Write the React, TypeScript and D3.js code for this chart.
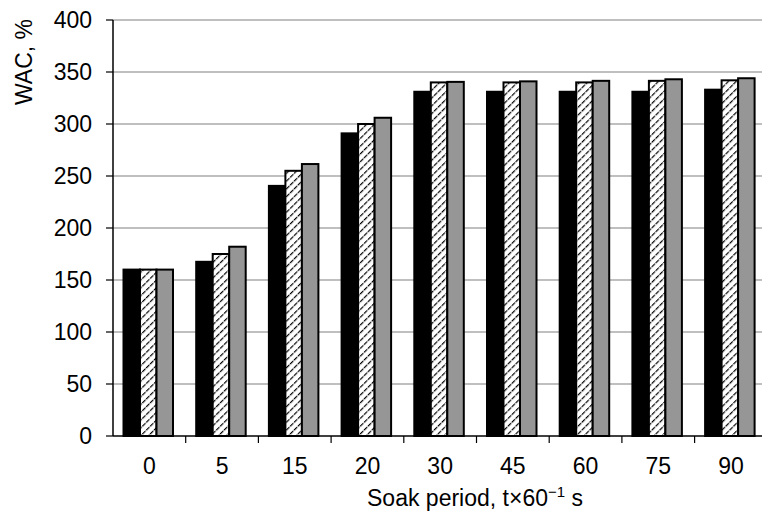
import React from "react";
import * as d3 from "d3";

const categories = ["0", "5", "15", "20", "30", "45", "60", "75", "90"];
const seriesA = [160, 167.5, 240.5, 291, 331, 331, 331, 331, 333];
const seriesB = [160, 175, 255, 300, 340, 340, 340, 341.5, 342];
const seriesC = [160, 182, 261.5, 306, 340.5, 341, 341.5, 343, 344];
const yTicks = [0, 50, 100, 150, 200, 250, 300, 350, 400];

const W = 762;
const H = 513;
const left = 113;
const top = 20;
const bottom = 436;
const bandW = 72.7;

export default function App() {
  const x0 = d3
    .scaleBand<string>()
    .domain(categories)
    .range([left, left + bandW * categories.length])
    .padding(0);
  const x1 = d3
    .scaleBand<string>()
    .domain(["a", "b", "c"])
    .range([10.5, 60])
    .padding(0);
  const y = d3.scaleLinear().domain([0, 400]).range([bottom, top]);

  const series = [
    { key: "a", values: seriesA, fill: "#000000" },
    { key: "b", values: seriesB, fill: "url(#hatch)" },
    { key: "c", values: seriesC, fill: "#969696" },
  ];

  const font = "'Liberation Sans', Arial, sans-serif";
  const fs = 23;

  return (
    <svg
      width={W}
      height={H}
      style={{ position: "absolute", left: 0, top: 0, background: "#fff" }}
      fontFamily={font}
    >
      <defs>
        <pattern
          id="hatch"
          width={5.5}
          height={5.5}
          patternUnits="userSpaceOnUse"
          patternTransform="rotate(45)"
        >
          <rect width={5.5} height={5.5} fill="#fff" />
          <line x1={0} y1={0} x2={0} y2={5.5} stroke="#000" strokeWidth={2.4} strokeDasharray="3 1" />
        </pattern>
      </defs>

      {/* horizontal gridlines */}
      {yTicks
        .filter((t) => t > 0)
        .map((t) => (
          <line
            key={t}
            x1={left}
            x2={W}
            y1={y(t)}
            y2={y(t)}
            stroke="#808080"
            strokeWidth={1.2}
          />
        ))}

      {/* bars */}
      {series.map((s) =>
        categories.map((c, i) => {
          const bx = (x0(c) as number) + (x1(s.key) as number);
          const by = y(s.values[i]);
          return (
            <rect
              key={s.key + c}
              x={bx}
              y={by}
              width={x1.bandwidth()}
              height={bottom - by}
              fill={s.fill}
              stroke="#000"
              strokeWidth={2}
            />
          );
        })
      )}

      {/* axes */}
      <line x1={left} x2={left} y1={top} y2={bottom} stroke="#000" strokeWidth={1.5} />
      <line x1={left} x2={W} y1={bottom} y2={bottom} stroke="#000" strokeWidth={1.5} />

      {yTicks.map((t) => (
        <g key={t}>
          <line x1={left - 7} x2={left} y1={y(t)} y2={y(t)} stroke="#000" strokeWidth={1.2} />
          <text
            x={92}
            y={y(t)}
            dy="0.36em"
            textAnchor="end"
            fontSize={fs}
            fill="#000"
          >
            {t}
          </text>
        </g>
      ))}

      {categories.map((c, i) => {
        const bx = x0(c) as number;
        return (
          <g key={c}>
            {i > 0 && (
              <line x1={bx} x2={bx} y1={bottom} y2={bottom + 7} stroke="#000" strokeWidth={1.2} />
            )}
            <text
              x={bx + x0.bandwidth() / 2}
              y={474}
              textAnchor="middle"
              fontSize={fs}
              fill="#000"
            >
              {c}
            </text>
          </g>
        );
      })}

      <text x={475} y={506} textAnchor="middle" fontSize={fs} fill="#000">
        Soak period, t×60
        <tspan dy={-9} fontSize={15}>
          −1
        </tspan>
        <tspan dy={9}> s</tspan>
      </text>

      <text
        transform="translate(32,62) rotate(-90)"
        textAnchor="middle"
        fontSize={fs}
        fill="#000"
      >
        WAC, %
      </text>
    </svg>
  );
}
